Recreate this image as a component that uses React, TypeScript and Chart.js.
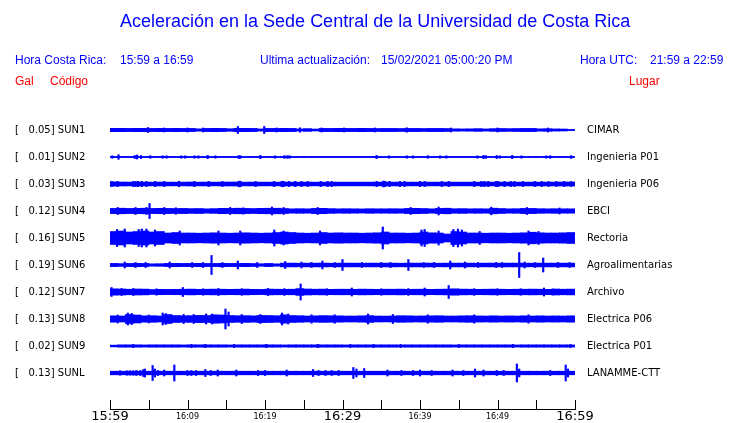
import React, { useEffect, useRef } from 'react';
import { Chart, registerables } from 'chart.js';

Chart.register(...registerables);

const BLUE = '#0000ff';
const RED = '#ff0000';

const stations = ['SUN1', 'SUN2', 'SUN3', 'SUN4', 'SUN5', 'SUN6', 'SUN7', 'SUN8', 'SUN9', 'SUNL'];
const peaks = ['0.05', '0.01', '0.03', '0.12', '0.16', '0.19', '0.12', '0.13', '0.02', '0.13'];
const places = ['CIMAR', 'Ingenieria P01', 'Ingenieria P06', 'EBCI', 'Rectoria', 'Agroalimentarias', 'Archivo', 'Electrica P06', 'Electrica P01', 'LANAMME-CTT'];
const timeLabels = ['15:59', '16:09', '16:19', '16:29', '16:39', '16:49', '16:59'];

const sun1Band = [1.7, 1.7, 1.6, 1.7, 1.7, 1.6, 1.7, 1.6, 1.7, 1.6, 1.6, 1.2, 1.6, 1.7, 1.6, 1.3, 1.7, 1.7, 1.6, 1.1, 1.6, 1.6, 1.7, 1.6, 1.1, 1.4, 1.0, 1.6, 1.6, 1.7, 1.6, 1.6, 1.7, 1.6, 1.5, 1.6, 1.6, 1.5, 1.6, 1.6, 1.5, 1.6, 1.6, 1.5, 1.2, 1.1, 1.2, 1.4, 1.1, 1.4, 1.5, 1.4, 1.5, 1.6, 1.6, 1.2, 1.3, 1.1, 1.0, 0.6];
const sun2Band = [0.6, 0.6, 0.6, 0.6, 0.6, 0.6, 0.6, 0.6, 0.6, 0.6, 0.6, 0.6, 0.6, 0.6, 0.6, 0.6, 0.6, 0.6, 0.6, 0.6, 0.6, 0.6, 0.6, 0.6, 0.6, 0.6, 0.6, 0.6, 0.6, 0.6, 0.6, 0.6, 0.6, 0.6, 0.6, 0.6, 0.6, 0.6, 0.6, 0.6, 0.6, 0.6, 0.6, 0.6, 0.6, 0.6, 0.6, 0.6, 0.6, 0.6, 0.6, 0.6, 0.6, 0.6, 0.6, 0.6, 0.6, 0.6, 0.6, 0.6];
const sun3Band = [2.2, 2.0, 1.9, 2.0, 1.9, 1.9, 2.0, 1.9, 1.9, 1.9, 2.0, 1.9, 1.9, 1.9, 1.9, 2.0, 2.0, 1.9, 1.9, 1.9, 1.9, 1.9, 2.0, 1.9, 1.9, 1.9, 1.9, 1.9, 1.9, 1.9, 1.9, 1.9, 1.9, 1.9, 1.9, 2.0, 1.9, 1.9, 1.9, 1.9, 1.9, 1.9, 1.9, 1.9, 1.9, 1.9, 1.9, 1.9, 2.0, 1.9, 1.9, 1.9, 1.9, 1.9, 1.9, 1.9, 1.9, 1.9, 2.0, 2.0];
const sun4Band = [2.6, 2.8, 2.6, 2.7, 2.8, 2.6, 2.7, 2.6, 2.5, 2.6, 2.4, 2.5, 2.2, 2.4, 2.7, 2.6, 2.8, 2.6, 2.5, 2.7, 2.8, 2.8, 2.5, 2.2, 2.3, 2.2, 2.6, 2.7, 2.4, 2.2, 2.3, 2.2, 2.1, 2.3, 2.2, 2.2, 2.3, 2.2, 2.6, 2.7, 2.5, 2.2, 2.6, 2.8, 2.3, 2.4, 2.2, 2.3, 2.2, 2.8, 2.5, 2.2, 2.3, 2.6, 2.6, 2.3, 2.2, 2.3, 2.2, 2.2];
const sun5Band = [6.5, 7.0, 6.0, 6.5, 7.0, 6.0, 6.5, 5.0, 5.5, 5.0, 5.0, 4.8, 5.0, 5.2, 5.0, 4.8, 5.0, 5.2, 5.0, 4.8, 5.0, 5.5, 6.0, 5.5, 5.0, 4.8, 5.0, 5.5, 5.0, 5.2, 5.0, 5.0, 4.8, 5.0, 5.2, 6.0, 5.0, 5.0, 4.8, 5.0, 6.0, 5.2, 5.0, 4.0, 6.5, 6.0, 5.0, 5.0, 4.8, 5.0, 5.0, 4.8, 5.0, 5.2, 5.8, 5.2, 5.0, 5.0, 5.2, 5.5];
const sun6Band = [1.6, 1.4, 1.6, 1.7, 1.6, 1.2, 1.3, 1.6, 1.7, 1.6, 1.6, 1.7, 1.6, 1.6, 1.7, 1.6, 1.6, 1.7, 1.5, 1.3, 1.6, 1.2, 1.9, 1.9, 1.8, 1.9, 1.9, 1.9, 1.8, 1.9, 1.9, 1.9, 1.8, 1.9, 1.9, 1.9, 1.9, 1.8, 1.9, 1.9, 1.9, 1.9, 1.8, 1.9, 1.9, 1.9, 1.9, 1.8, 1.9, 1.9, 1.9, 1.9, 1.9, 1.9, 1.8, 1.9, 1.9, 1.9, 1.9, 1.9];
const sun7Band = [3.2, 3.0, 2.8, 3.0, 2.9, 2.5, 2.7, 2.6, 2.7, 2.8, 2.9, 2.7, 2.8, 2.9, 2.8, 2.7, 2.8, 2.9, 2.7, 2.6, 2.9, 2.8, 2.7, 2.8, 3.4, 3.0, 2.8, 2.9, 2.7, 2.8, 2.8, 2.7, 2.9, 2.8, 2.7, 2.8, 2.8, 2.9, 2.7, 2.8, 2.8, 2.7, 2.8, 2.9, 3.2, 2.9, 2.8, 2.7, 2.8, 2.9, 2.8, 2.7, 2.8, 2.8, 2.9, 2.8, 2.7, 3.0, 2.8, 2.9];
const sun8Band = [3.2, 3.0, 4.5, 4.0, 3.2, 3.3, 3.0, 4.5, 3.5, 3.3, 3.4, 3.6, 3.5, 4.2, 4.0, 3.5, 3.3, 3.4, 3.2, 3.6, 3.5, 3.3, 4.2, 3.5, 3.3, 3.0, 3.2, 3.4, 3.3, 3.2, 3.0, 3.0, 3.2, 3.4, 3.0, 2.9, 3.0, 3.3, 3.2, 3.0, 3.1, 3.2, 3.3, 3.0, 3.0, 3.2, 3.3, 3.1, 3.0, 3.2, 3.0, 3.1, 3.0, 3.2, 3.0, 3.2, 3.0, 3.1, 3.0, 3.2];
const sun9Band = [0.9, 1.2, 1.2, 1.2, 1.1, 1.2, 1.2, 1.2, 1.2, 1.1, 1.2, 1.2, 1.2, 1.2, 1.2, 1.1, 1.2, 1.2, 1.2, 1.2, 1.2, 1.2, 1.1, 1.2, 1.2, 1.2, 1.2, 1.2, 1.2, 1.2, 1.1, 1.2, 1.2, 1.2, 1.2, 1.2, 1.2, 1.1, 1.2, 1.2, 1.2, 1.2, 1.2, 1.2, 1.1, 1.2, 1.2, 1.2, 1.2, 1.2, 1.2, 1.2, 1.1, 1.2, 1.2, 1.2, 1.2, 1.2, 1.2, 1.1];
const sunLBand = [1.8, 1.8, 1.8, 1.8, 1.8, 1.8, 1.8, 1.8, 1.8, 1.8, 1.8, 1.8, 1.8, 1.8, 1.8, 1.8, 1.8, 1.8, 1.8, 1.8, 1.8, 1.8, 1.8, 1.8, 1.8, 1.8, 1.8, 1.8, 1.8, 1.8, 1.8, 1.8, 1.8, 1.8, 1.8, 1.8, 1.8, 1.8, 1.8, 1.8, 1.8, 1.8, 1.8, 1.8, 1.8, 1.8, 1.8, 1.8, 1.8, 1.8, 1.8, 1.8, 1.8, 1.8, 1.8, 1.8, 1.8, 1.8, 1.8, 1.8];

const sun1Spikes = [[4.9, 2.5], [16.5, 3.5], [19.9, 3.5], [24.5, 2.2], [30.2, 2], [34.2, 2], [38.3, 2.2], [12, 2], [21.5, 2], [27.3, 2], [44, 2], [50, 2], [56.5, 2], [10, 2], [7, 2]];
const sun2Spikes = [[0.3, 1.2], [1.1, 2.3], [3.2, 1.5], [3.5, 2], [4.0, 1.5], [5.2, 1.3], [6.8, 1.2], [7.3, 1.2], [9.2, 1.2], [9.7, 1.2], [10.9, 1.2], [11.4, 1.2], [12.6, 1.6], [13.6, 1.2], [16.6, 1.4], [16.8, 1.4], [19.4, 1.6], [21.3, 1.2], [22.5, 1.4], [22.9, 1.4], [23.2, 1.2], [34.4, 1.6], [36, 1.2], [38.3, 1.2], [39.1, 1.2], [41, 1.3], [42.6, 1.2], [43.4, 1.2], [47.4, 1.2], [48.2, 1.6], [48.5, 1.4], [49.9, 1.5], [50.3, 1.2], [51.9, 1.6], [53.1, 1.2], [56.3, 1.2], [56.8, 1.3], [59.5, 1.4]];
const sun3Spikes = [[0.2, 2.6], [1.0, 2.6], [3.0, 2.6], [3.3, 2.6], [3.6, 2.6], [4.1, 2.6], [4.7, 2.6], [5.8, 2.6], [7.0, 2.6], [8.9, 2.8], [10.9, 2.6], [12.7, 2.6], [14.5, 2.6], [16.6, 2.8], [16.8, 2.8], [18.8, 2.6], [21.2, 2.6], [22.2, 2.8], [22.4, 2.6], [23.1, 2.6], [23.9, 2.6], [24.7, 2.6], [25.5, 2.6], [27.2, 2.6], [28.1, 2.6], [28.6, 2.6], [34.4, 2.6], [35.3, 3], [35.5, 2.6], [36.1, 2.6], [37.4, 2.6], [38.0, 2.6], [40.0, 2.6], [40.6, 2.6], [42.8, 2.6], [43.7, 2.6], [47.0, 2.6], [47.9, 2.6], [48.3, 2.6], [48.8, 2.6], [49.8, 2.6], [50.1, 2.6], [50.9, 2.6], [51.7, 2.6], [52.2, 2.6], [53.3, 2.6], [54.8, 2.6], [55.7, 2.6], [56.6, 2.6], [57.6, 2.6], [58.6, 2.6], [59.5, 2.6]];
const sun4Spikes = [[5.1, 7.5], [1, 3.5], [3.3, 3.5], [4.7, 3.5], [7.0, 3.5], [8.5, 3.2], [15.5, 3.5], [17.2, 3.2], [20.9, 4], [22.4, 3.5], [26.8, 3.5], [38.8, 3.5], [42.4, 4], [49.2, 3.8], [53.8, 3.5], [58, 3]];
const sun5Spikes = [[0.9, 8.5], [1.9, 9], [3.7, 8.5], [4.1, 9], [4.7, 9], [5.8, 8], [9.0, 7], [14, 7], [16.8, 7], [21.2, 8], [22.4, 7], [27.1, 7], [35.2, 11], [40.2, 8], [40.6, 8.5], [42.4, 7], [44.3, 8.5], [44.9, 9], [45.4, 8], [47.7, 6.5], [54, 7], [55.3, 6.5]];
const sun6Spikes = [[13.1, 9.5], [30.0, 5.5], [38.5, 5.5], [52.8, 12.5], [55.9, 7], [1.9, 3], [7.7, 3], [16.5, 4], [22.6, 3.5], [27.4, 4], [43.9, 4], [3.3, 2.5], [4.6, 2.5], [10.6, 2.5], [12.0, 2.5], [14.5, 2.5], [19.0, 2.5], [24.7, 3], [26.0, 2.5], [29.0, 2.5], [32.5, 2.5], [35, 2.5], [36.2, 2.5], [40.5, 2.5], [41.8, 2.5], [45.8, 3], [47.5, 2.5], [49.8, 2.5], [50.6, 2.5], [53.5, 3], [54.8, 2.5], [57.8, 2.5], [59.3, 2.5]];
const sun7Spikes = [[0.2, 4.5], [3.0, 3.5], [9.4, 4.5], [14.0, 3.5], [20.4, 3.5], [24.6, 8], [31.2, 4], [40.6, 4], [43.7, 6.5], [56.0, 4], [57.2, 3], [1.5, 3.5], [6, 3.2], [12, 3.2], [17, 3.2], [22.5, 3.4], [28, 3.2], [35, 3.2], [38.5, 3.4], [47, 3.3], [50, 3.2], [53, 3.2]];
const sun8Spikes = [[2.3, 6], [2.8, 5.5], [6.8, 6], [7.2, 5.5], [12.4, 5], [13.2, 5], [14.9, 10], [15.3, 7], [19.4, 4.5], [22.2, 6], [23.0, 5], [33.3, 5], [36.5, 4.5], [41, 4.2], [47, 4.2], [54, 4.2], [1, 4], [5, 4], [9.5, 4.5], [10.8, 4.5], [17, 4.5], [26, 4.2], [29, 4.2]];
const sun9Spikes = [[3, 1.6], [10.5, 1.6], [12.3, 1.6], [16, 1.5], [20.2, 1.6], [26.8, 1.6], [31, 1.5], [34, 1.6], [37.5, 1.6], [45, 1.5], [52, 1.6], [59.4, 1.6]];
const sunLSpikes = [[1.3, 2.2], [2.2, 2.2], [2.6, 2.2], [3.0, 2.2], [3.4, 2.5], [3.9, 2.5], [4.3, 3.5], [4.5, 4], [5.5, 7.5], [5.8, 4], [6.2, 2.5], [7.0, 3], [8.3, 8], [10.0, 2.5], [10.5, 2.5], [11.1, 2.5], [12.3, 3.5], [13.0, 2.5], [13.9, 3], [16.3, 3], [19.1, 2.5], [20, 2.5], [22.8, 3], [26.2, 3.5], [26.9, 2.5], [27.8, 2.5], [28.6, 2.5], [29.5, 2.5], [31.4, 5.5], [31.8, 4], [32.8, 4.5], [35.8, 3], [37.6, 2.5], [39.1, 2.5], [40, 3], [41.5, 2.5], [44.2, 3], [45.6, 2.5], [47.1, 4], [48.2, 3], [49.9, 2.5], [50.8, 2.5], [52.5, 9], [52.8, 4], [56.8, 2.5], [58.8, 8], [59.1, 4]];

const bands = [sun1Band, sun2Band, sun3Band, sun4Band, sun5Band, sun6Band, sun7Band, sun8Band, sun9Band, sunLBand];
const spikes = [sun1Spikes, sun2Spikes, sun3Spikes, sun4Spikes, sun5Spikes, sun6Spikes, sun7Spikes, sun8Spikes, sun9Spikes, sunLSpikes];

const SPACING = 27;
const TOTAL_MIN = 60;

const tickMarks = {
  id: 'tickMarks',
  afterDraw(chart: any) {
    const s = chart.scales.x;
    const ctx = chart.ctx;
    ctx.save();
    ctx.strokeStyle = '#000';
    ctx.lineWidth = 1;
    ctx.beginPath();
    s.ticks.forEach((t: any) => {
      const x = Math.round(s.getPixelForValue(t.value)) + 0.5;
      ctx.moveTo(x, s.top);
      ctx.lineTo(x, s.top - 9);
    });
    ctx.stroke();
    ctx.restore();
  },
};

function App() {
  const ref = useRef<HTMLCanvasElement | null>(null);

  useEffect(() => {
    document.body.style.margin = '0';
    const datasets: any[] = [];
    bands.forEach((band, i) => {
      const c = SPACING * (i + 1);
      datasets.push({
        label: stations[i],
        data: band.map((a, m) => ({ x: m + 0.5, y: [c - a, c + a] })),
        backgroundColor: BLUE,
        barThickness: 8,
        grouped: false,
      });
    });
    spikes.forEach((list, i) => {
      const c = SPACING * (i + 1);
      datasets.push({
        label: stations[i] + ' peaks',
        data: list.map(([m, a]) => ({ x: m, y: [c - a, c + a] })),
        backgroundColor: BLUE,
        barThickness: 1.5,
        grouped: false,
      });
    });

    const traceTicks = (scale: any) => {
      scale.ticks = stations.map((_, i) => ({ value: SPACING * (i + 1) }));
    };

    const chart = new Chart(ref.current as HTMLCanvasElement, {
      type: 'bar',
      data: { datasets },
      options: {
        responsive: false,
        maintainAspectRatio: false,
        animation: false,
        events: [],
        layout: { padding: { left: 15, top: 103, right: 0, bottom: 0 } },
        plugins: { legend: { display: false }, tooltip: { enabled: false }, title: { display: false } },
        scales: {
          x: {
            type: 'linear',
            position: 'bottom',
            min: 0,
            max: TOTAL_MIN,
            offset: false,
            grid: { display: false, drawTicks: false, offset: false },
            border: { display: true, color: '#000', width: 1 },
            afterFit: (s: any) => { s.height = 14; },
            ticks: {
              stepSize: 5,
              autoSkip: false,
              maxRotation: 0,
              padding: 1,
              color: '#000',
              callback: (v: any) => (Number(v) % 10 === 0 ? timeLabels[Number(v) / 10] : ''),
              font: (ctx: any) => {
                const v = ctx.tick ? ctx.tick.value : 0;
                return v % 30 === 0
                  ? { family: 'DejaVu Sans', size: 13, lineHeight: 1 }
                  : { family: 'DejaVu Sans', size: 8, lineHeight: 13 / 8 };
              },
            },
          },
          y: {
            type: 'linear',
            position: 'left',
            min: 0,
            max: SPACING * 11.333,
            reverse: true,
            grid: { display: false, drawTicks: false },
            border: { display: false },
            afterFit: (s: any) => { s.width = 95; },
            afterBuildTicks: traceTicks,
            ticks: {
              autoSkip: false,
              crossAlign: 'far',
              padding: 0,
              color: '#000',
              font: { family: 'DejaVu Sans', size: 10 },
              callback: (v: any) => {
                const i = Math.round(Number(v) / SPACING) - 1;
                return '[   ' + peaks[i] + '] ' + stations[i];
              },
            },
          },
          y2: {
            type: 'linear',
            position: 'right',
            min: 0,
            max: SPACING * 11.333,
            reverse: true,
            grid: { display: false, drawTicks: false },
            border: { display: false },
            afterFit: (s: any) => { s.width = 165; },
            afterBuildTicks: traceTicks,
            ticks: {
              autoSkip: false,
              crossAlign: 'near',
              padding: 12,
              color: '#000',
              font: { family: 'DejaVu Sans', size: 10 },
              callback: (v: any) => places[Math.round(Number(v) / SPACING) - 1],
            },
          },
        },
      } as any,
      plugins: [tickMarks],
    });
    return () => chart.destroy();
  }, []);

  const hdr: React.CSSProperties = {
    position: 'absolute',
    fontFamily: '"Liberation Sans", Arial, sans-serif',
    fontSize: 12,
    lineHeight: '14px',
    whiteSpace: 'pre',
    color: BLUE,
  };

  return (
    <div style={{ position: 'fixed', left: 0, top: 0, width: 740, height: 423, background: '#fff', overflow: 'hidden' }}>
      <canvas ref={ref} width={740} height={427} style={{ position: 'absolute', left: 0, top: 0 }} />
      <div style={{ ...hdr, left: 120, top: 10, fontSize: 18, lineHeight: '22px' }}>
        Aceleración en la Sede Central de la Universidad de Costa Rica
      </div>
      <div style={{ ...hdr, left: 15, top: 53 }}>Hora Costa Rica:</div>
      <div style={{ ...hdr, left: 120, top: 53 }}>15:59 a 16:59</div>
      <div style={{ ...hdr, left: 260, top: 53 }}>Ultima actualización:</div>
      <div style={{ ...hdr, left: 381, top: 53 }}>15/02/2021 05:00:20 PM</div>
      <div style={{ ...hdr, left: 580, top: 53 }}>Hora UTC:</div>
      <div style={{ ...hdr, left: 650, top: 53 }}>21:59 a 22:59</div>
      <div style={{ ...hdr, left: 15, top: 74, color: RED }}>Gal</div>
      <div style={{ ...hdr, left: 50, top: 74, color: RED }}>Código</div>
      <div style={{ ...hdr, left: 629, top: 74, color: RED }}>Lugar</div>
    </div>
  );
}

export default App;
